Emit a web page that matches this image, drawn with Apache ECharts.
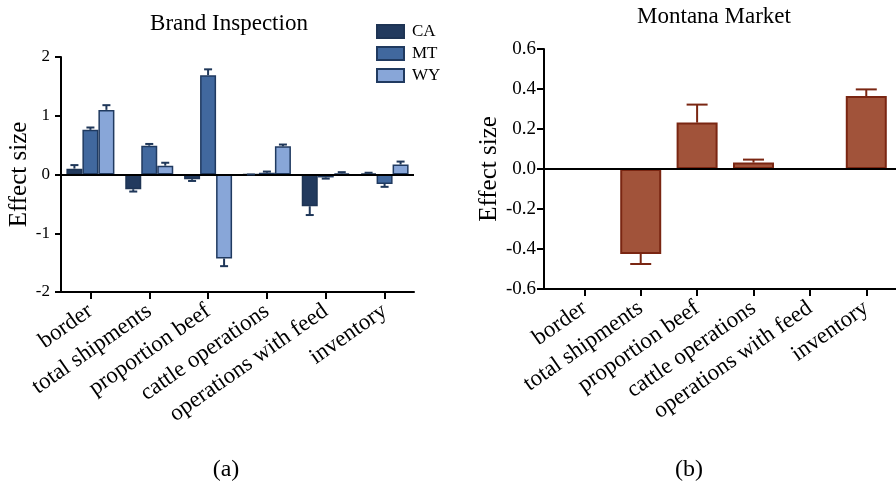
<!DOCTYPE html>
<html>
<head>
<meta charset="utf-8">
<script src="https://cdn.jsdelivr.net/npm/echarts@6/dist/echarts.min.js"></script>
<style>html,body{margin:0;padding:0;background:#fff}#c{width:896px;height:487px}</style>
</head>
<body>
<div id="c"></div>
<script>
// ---- data ----
const categories = ['border', 'total shipments', 'proportion beef', 'cattle operations', 'operations with feed', 'inventory'];
const seriesNames = ['CA', 'MT', 'WY'];
// Brand Inspection effect sizes and error-bar ends
const caValues = [0.10, -0.25, -0.08, 0.00, -0.54, 0.02];
const caErrEnd = [0.16, -0.29, -0.11, 0.00, -0.69, 0.03];
const mtValues = [0.76, 0.49, 1.69, 0.03, -0.05, -0.16];
const mtErrEnd = [0.80, 0.52, 1.79, 0.05, -0.07, -0.21];
const wyValues = [1.10, 0.15, -1.43, 0.48, 0.02, 0.17];
const wyErrEnd = [1.18, 0.20, -1.56, 0.51, 0.04, 0.22];
// Montana Market
const mmValues = [null, -0.425, 0.232, 0.032, null, 0.365];
const mmErrEnd = [null, -0.475, 0.322, 0.047, null, 0.398];
const leftTicks = [-2, -1, 0, 1, 2];
const rightTicks = [-0.6, -0.4, -0.2, 0.0, 0.2, 0.4, 0.6];

const FONT = 'Liberation Serif';
const fills = ['#223a5e', '#41689e', '#88a6d8'];
const strokes = ['#1e3454', '#203a60', '#203a60'];
const errColor = '#1f3759';
const brownFill = '#a1533a';
const brownStroke = '#7a2612';

const barW = 16;
const offsets = [-barW, 0, barW];

function errSeries(vals, ends, xIdx, yIdx, off, cap, color, lw, extra) {
  const data = vals.map((v, i) => (v === null ? null : [i, v, ends[i]])).filter(d => d !== null);
  return Object.assign({
    type: 'custom', xAxisIndex: xIdx, yAxisIndex: yIdx, z: 5, silent: true,
    data: data,
    renderItem: function (params, api) {
      const p0 = api.coord([api.value(0), api.value(1)]);
      const p1 = api.coord([api.value(0), api.value(2)]);
      const x = p0[0] + off;
      const st = { stroke: color, lineWidth: lw };
      return { type: 'group', children: [
        { type: 'line', shape: { x1: x, y1: p0[1], x2: x, y2: p1[1] }, style: st },
        { type: 'line', shape: { x1: x - cap / 2, y1: p1[1], x2: x + cap / 2, y2: p1[1] }, style: st }
      ] };
    }
  }, extra || {});
}

const leftVals = [caValues, mtValues, wyValues];
const leftEnds = [caErrEnd, mtErrEnd, wyErrEnd];
const zeroLine = { markLine: { silent: true, symbol: 'none', label: { show: false },
  lineStyle: { color: '#000', width: 2, type: 'solid' }, data: [{ yAxis: 0 }] } };

const series = [];
seriesNames.forEach((n, k) => {
  series.push({
    name: n, type: 'bar', xAxisIndex: 0, yAxisIndex: 0,
    data: leftVals[k], barWidth: barW, barGap: '0%',
    itemStyle: { color: fills[k], borderColor: strokes[k], borderWidth: 1.5 },
    emphasis: { disabled: true }
  });
});
seriesNames.forEach((n, k) => {
  series.push(errSeries(leftVals[k], leftEnds[k], 0, 0, offsets[k], 8, errColor, 2,
    k === 2 ? zeroLine : {}));
});
series.push({
  type: 'bar', xAxisIndex: 1, yAxisIndex: 1, barWidth: 41,
  data: mmValues.map((v, i) => [i, v]).filter(d => d[1] !== null),
  itemStyle: { color: brownFill, borderColor: brownStroke, borderWidth: 2 },
  emphasis: { disabled: true }
});
series.push(errSeries(mmValues, mmErrEnd, 1, 1, 0, 21, brownStroke, 2, zeroLine));

const axisLineStyle = { show: true, onZero: false, lineStyle: { color: '#000', width: 2 } };
const catLabel = { fontFamily: FONT, fontSize: 23, color: '#000', rotate: 35, margin: 17, interval: 0 };

const option = {
  animation: false,
  textStyle: { fontFamily: FONT },
  title: [
    { text: 'Brand Inspection', left: 224, top: 7, textAlign: 'center',
      textStyle: { fontFamily: FONT, fontSize: 23, fontWeight: 'normal', color: '#000' } },
    { text: 'Montana Market', left: 709, top: 0, textAlign: 'center',
      textStyle: { fontFamily: FONT, fontSize: 23, fontWeight: 'normal', color: '#000' } },
    { text: '(a)', left: 221, top: 453, textAlign: 'center',
      textStyle: { fontFamily: FONT, fontSize: 24, fontWeight: 'normal', color: '#000' } },
    { text: '(b)', left: 684, top: 453, textAlign: 'center',
      textStyle: { fontFamily: FONT, fontSize: 24, fontWeight: 'normal', color: '#000' } }
  ],
  legend: {
    data: seriesNames, orient: 'vertical', left: 371, top: 18,
    itemWidth: 27, itemHeight: 13, itemGap: 5, icon: 'rect',
    textStyle: { fontFamily: FONT, fontSize: 17, color: '#000', padding: [0, 0, 0, 3] },
    selectedMode: false
  },
  grid: [
    { left: 61, right: 482, top: 57, bottom: 195 },
    { left: 544, right: 0, top: 49, bottom: 198 }
  ],
  xAxis: [
    { type: 'category', gridIndex: 0, data: categories,
      axisLine: axisLineStyle,
      axisTick: { show: true, alignWithLabel: true, length: 7, lineStyle: { color: '#000', width: 2 } },
      axisLabel: catLabel, splitLine: { show: false } },
    { type: 'value', gridIndex: 1, min: -0.715, max: 5.527,
      axisLine: axisLineStyle,
      axisTick: { show: true, length: 7, customValues: categories.map((c, i) => i), lineStyle: { color: '#000', width: 2 } },
      axisLabel: Object.assign({}, catLabel, { customValues: categories.map((c, i) => i),
        formatter: v => categories[Math.round(v)] }),
      splitLine: { show: false } }
  ],
  yAxis: [
    { type: 'value', gridIndex: 0, min: leftTicks[0], max: leftTicks[leftTicks.length - 1], interval: 1,
      name: 'Effect size', nameLocation: 'middle', nameRotate: 90, nameGap: 24,
      nameTextStyle: { fontFamily: FONT, fontSize: 25, color: '#000' },
      axisLine: axisLineStyle,
      axisTick: { show: true, length: 6, lineStyle: { color: '#000', width: 2 } },
      axisLabel: { fontFamily: FONT, fontSize: 17, color: '#000', margin: 11 },
      splitLine: { show: false } },
    { type: 'value', gridIndex: 1, min: rightTicks[0], max: rightTicks[rightTicks.length - 1], interval: 0.2,
      name: 'Effect size', nameLocation: 'middle', nameRotate: 90, nameGap: 40,
      nameTextStyle: { fontFamily: FONT, fontSize: 25, color: '#000' },
      axisLine: axisLineStyle,
      axisTick: { show: true, length: 7, lineStyle: { color: '#000', width: 2 } },
      axisLabel: { fontFamily: FONT, fontSize: 19, color: '#000', margin: 8,
        formatter: v => v.toFixed(1) },
      splitLine: { show: false } }
  ],
  series: series
};

const chart = echarts.init(document.getElementById('c'), null, { renderer: 'canvas' });
chart.setOption(option);
</script>
</body>
</html>
